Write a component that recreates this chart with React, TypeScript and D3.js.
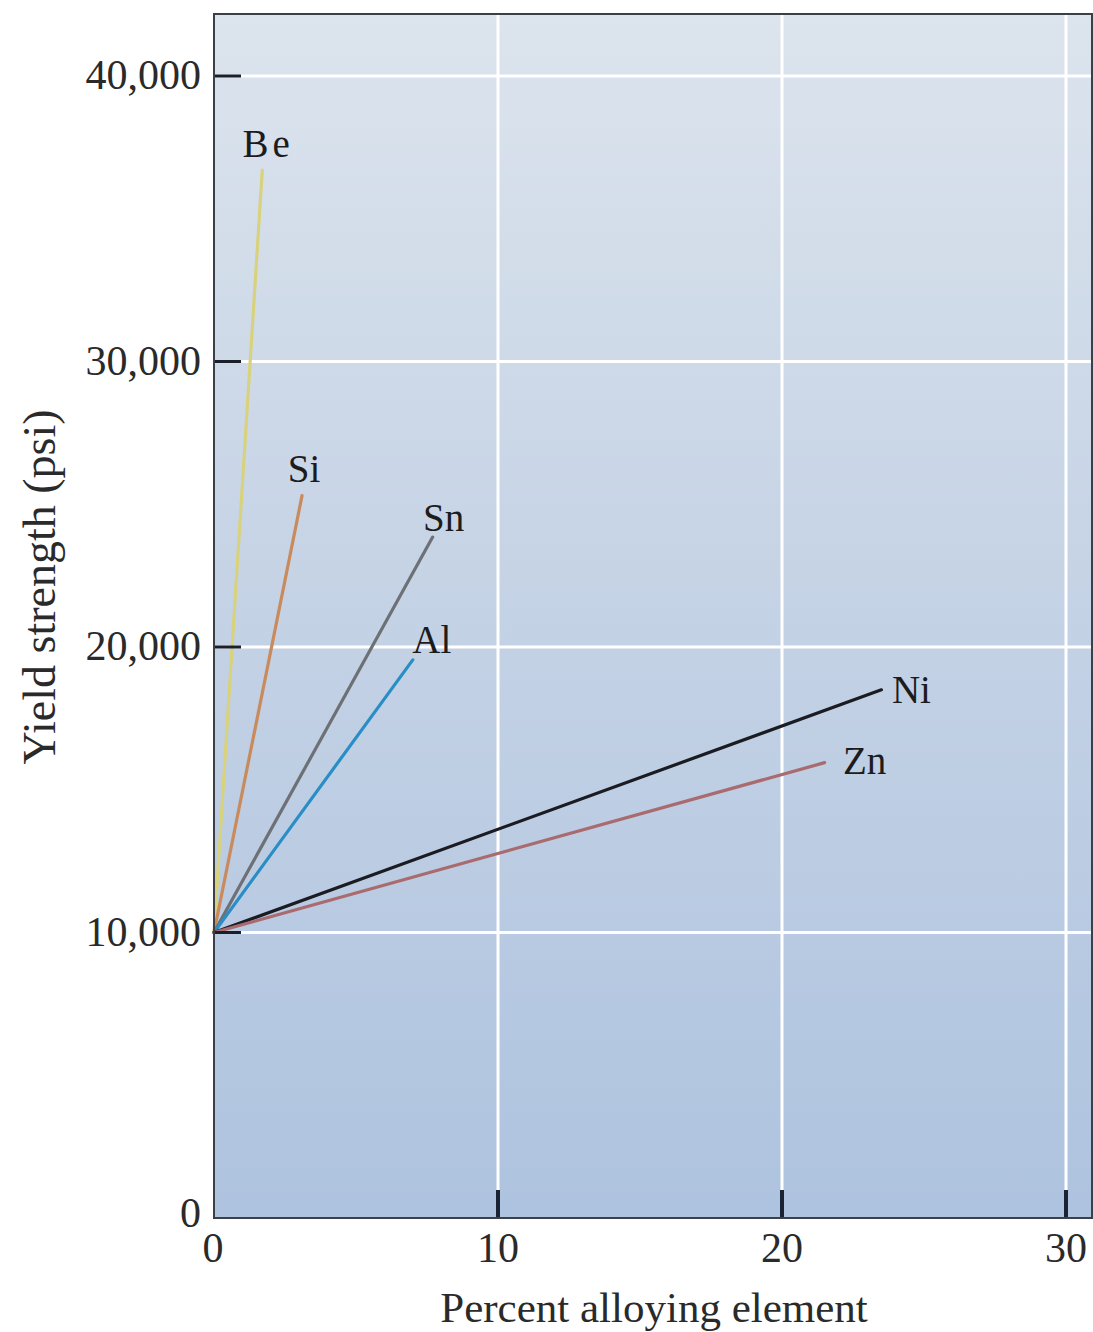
import React from "react";
import * as d3 from "d3";

// Alloying elements and the end point of each strengthening line
const elements = ["Be", "Si", "Sn", "Al", "Ni", "Zn"];
const endPercent = [1.7, 3.1, 7.7, 7.0, 23.5, 21.5];
const endStrength = [36700, 25300, 23850, 19550, 18500, 15950];
const baseStrength = 10000;

const xTicks = [0, 10, 20, 30];
const yTicks = [0, 10000, 20000, 30000, 40000];

// Styling
const lineColors = ["#d8d27c", "#c98a5c", "#6d7074", "#2a8ec6", "#1b1c22", "#a96b6e"];
const labelOffsets: [number, number][] = [
  [6, -27],
  [2, -27],
  [11, -20],
  [19, -20],
  [30, 0],
  [40, -2],
];

const W = 1093;
const H = 1332;
const left = 214;
const right = 1092;
const top = 14;
const bottom = 1218;
const font = "'Liberation Serif', 'Times New Roman', serif";

export default function App() {
  const x = d3.scaleLinear().domain([0, 30]).range([left, 1066]);
  const y = d3.scaleLinear().domain([0, 40000]).range([bottom, 76]);
  const fmt = d3.format(",");
  const line = d3
    .line<[number, number]>()
    .x((d) => x(d[0]))
    .y((d) => y(d[1]));

  return (
    <svg
      width={W}
      height={H}
      style={{ position: "absolute", left: 0, top: 0, background: "#fff" }}
      fontFamily={font}
    >
      <defs>
        <linearGradient id="bg" x1="0" y1="0" x2="0" y2="1">
          <stop offset="0" stopColor="#dce4ed" />
          <stop offset="0.5" stopColor="#c4d2e5" />
          <stop offset="1" stopColor="#aec3df" />
        </linearGradient>
      </defs>
      <rect x={left} y={top} width={right - left} height={bottom - top} fill="url(#bg)" />

      {/* grid */}
      {yTicks
        .filter((t) => t > 0)
        .map((t) => (
          <line key={"gy" + t} x1={left} x2={right} y1={y(t)} y2={y(t)} stroke="#fff" strokeWidth={3} />
        ))}
      {xTicks
        .filter((t) => t > 0)
        .map((t) => (
          <line key={"gx" + t} x1={x(t)} x2={x(t)} y1={top} y2={bottom - 28} stroke="#fff" strokeWidth={3} />
        ))}

      {/* data lines */}
      {elements.map((el, i) => (
        <path
          key={el}
          d={line([
            [0, baseStrength],
            [endPercent[i], endStrength[i]],
          ]) as string}
          fill="none"
          stroke={lineColors[i]}
          strokeWidth={3.2}
          strokeLinecap="round"
        />
      ))}

      {/* ticks */}
      {yTicks
        .filter((t) => t > 0)
        .map((t) => (
          <line key={"ty" + t} x1={left} x2={left + 27} y1={y(t)} y2={y(t)} stroke="#1a1f2a" strokeWidth={3} />
        ))}
      {xTicks
        .filter((t) => t > 0)
        .map((t) => (
          <line key={"tx" + t} x1={x(t)} x2={x(t)} y1={bottom - 28} y2={bottom} stroke="#1a2233" strokeWidth={4} />
        ))}

      {/* frame */}
      <rect
        x={left}
        y={top}
        width={right - left}
        height={bottom - top}
        fill="none"
        stroke="#3a3f48"
        strokeWidth={2}
      />

      {/* element labels */}
      {elements.map((el, i) => (
        <text
          key={"l" + el}
          x={x(endPercent[i]) + labelOffsets[i][0]}
          y={y(endStrength[i]) + labelOffsets[i][1]}
          textAnchor="middle"
          dominantBaseline="central"
          fontSize={39}
          fill="#1c1c1c"
          letterSpacing={el === "Be" ? 4 : 0}
        >
          {el}
        </text>
      ))}

      {/* y tick labels */}
      {yTicks.map((t) => (
        <text
          key={"yl" + t}
          x={201}
          y={t === 0 ? y(t) - 5 : y(t) - 1}
          textAnchor="end"
          dominantBaseline="central"
          fontSize={42}
          fill="#2a2a2a"
        >
          {fmt(t)}
        </text>
      ))}

      {/* x tick labels */}
      {xTicks.map((t) => (
        <text
          key={"xl" + t}
          x={t === 0 ? x(t) - 1 : x(t)}
          y={1262}
          textAnchor="middle"
          fontSize={42}
          fill="#2a2a2a"
        >
          {t}
        </text>
      ))}

      {/* axis titles */}
      <text x={654} y={1322} textAnchor="middle" fontSize={43} fill="#2a2a2a">
        Percent alloying element
      </text>
      <text
        transform={`translate(55, 587) rotate(-90)`}
        textAnchor="middle"
        fontSize={46}
        fill="#2a2a2a"
      >
        Yield strength (psi)
      </text>
    </svg>
  );
}
